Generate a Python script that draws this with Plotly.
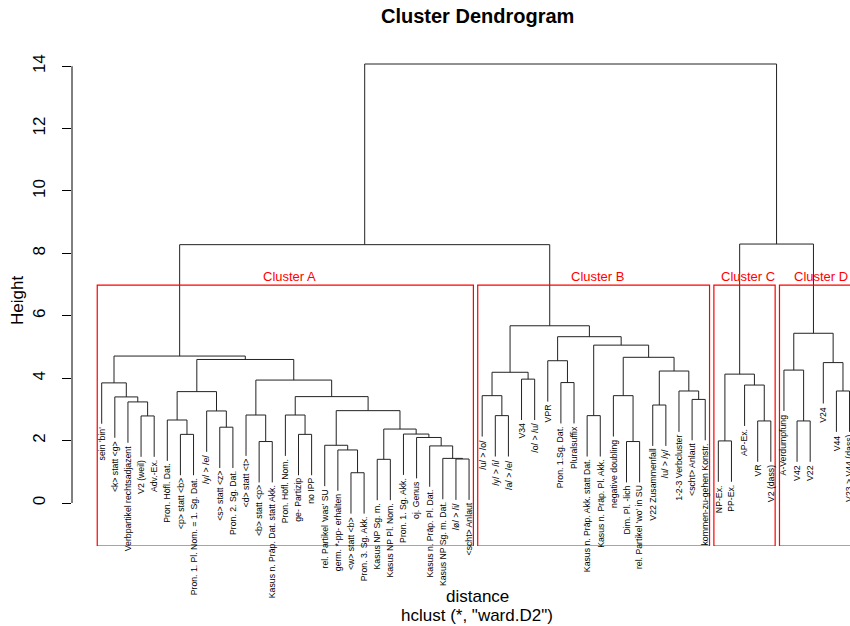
import plotly.graph_objects as go

# leaves in dendrogram order (left to right)
labels = [
    "sein 'bin'", "<k> statt <g>", "Verbpartikel rechtsadjazent", "V2 (weil)", "Adv.-Ex.",
    "Pron. Höfl. Dat.", "<p> statt <b>", "Pron. 1. Pl. Nom. = 1. Sg. Dat.", "/y/ > /e/",
    "<s> statt <z>", "Pron. 2. Sg. Dat.", "<d> statt <t>", "<b> statt <p>",
    "Kasus n. Präp. Dat. statt Akk.", "Pron. Höfl. Nom.", "ge- Partizip", "no IPP",
    "rel. Partikel 'was' SU", "germ. *-pp- erhalten", "<w> statt <b>", "Pron. 3. Sg. Akk.",
    "Kasus NP Sg. m.", "Kasus NP Pl. Nom.", "Pron. 1. Sg. Akk.", "oj. Genus",
    "Kasus n. Präp. Pl. Dat.", "Kasus NP Sg. m. Dat.", "/ø/ > /i/", "<scht> Anlaut",
    "/u/ > /o/", "/y/ > /i/", "/a/ > /e/", "V34", "/o/ > /u/", "VPR", "Pron. 1.Sg. Dat.",
    "Pluralsuffix", "Kasus n. Präp. Akk. statt Dat.", "Kasus n. Präp. Pl. Akk.",
    "negative doubling", "Dim. Pl. -lich", "rel. Partikel 'wo' in SU", "V22 Zusammenfall",
    "/u/ > /y/", "1-2-3 Verbcluster", "<scht> Anlaut", "kommen-zu-gehen Konstr.",
    "NP-Ex.", "PP-Ex.", "AP-Ex.", "VR", "V2 (dass)",
    "A-Verdumpfung", "V42", "V22", "V24", "V44", "V23 > V44 (dass)",
]

# merge matrix like R's hclust: negative = leaf number, positive = earlier merge row
merge_left = [-4, -3, -2, -1, -7, -6, -10, -9, 6, -13, -12, -16, -15, -20, -19, -18,
              -22, -28, -27, -26, -25, -24, 17, 16, 13, 11, 9, 4,
              -31, -30, -33, 30, -36, -35, -38, -41, -40, -43, -46, -45, 38, 37, 35, 34, 32,
              -48, -51, -50, 46,
              -54, -53, -57, -56, 51,
              28, 49, 55]
merge_right = [-5, 1, 2, 3, -8, 5, -11, 7, 8, -14, 10, -17, 12, -21, 14, 15,
               -23, -29, 18, 19, 20, 21, 22, 23, 24, 25, 26, 27,
               -32, 29, -34, 31, -37, 33, -39, -42, 36, -44, -47, 39, 40, 41, 42, 43, 44,
               -49, -52, 47, 48,
               -55, 50, -58, 52, 53,
               45, 54, 56]
merge_height = [2.79, 3.24, 3.40, 3.85, 2.20, 2.66, 2.43, 2.95, 3.57, 1.97, 2.82, 2.20, 2.82,
                0.97, 1.70, 1.85, 1.40, 1.41, 1.43, 1.83, 2.10, 2.21, 2.37, 2.96, 3.41, 3.94,
                4.60, 4.71,
                2.80, 3.44, 3.97, 4.19, 3.86, 4.56, 2.80, 1.97, 3.44, 3.14, 3.32, 3.59, 4.23,
                4.67, 5.06, 5.33, 5.68,
                1.99, 2.63, 3.78, 4.13,
                2.63, 4.26, 3.59, 4.50, 5.44,
                8.28, 8.30, 14.07]

n_clusters = 4
cluster_names = ["Cluster A", "Cluster B", "Cluster C", "Cluster D"]
y_ticks = [0, 2, 4, 6, 8, 10, 12, 14]

FONT = "Liberation Sans, Arial, Helvetica, sans-serif"
n = len(labels)
hang = 0.1 * (max(merge_height) - min(merge_height))

# node positions
merge_x = []
for l, r in zip(merge_left, merge_right):
    xl = -l if l < 0 else merge_x[l - 1]
    xr = -r if r < 0 else merge_x[r - 1]
    merge_x.append((xl + xr) / 2)

seg_x, seg_y = [], []
leaf_end = {}
for l, r, h in zip(merge_left, merge_right, merge_height):
    ends = []
    for c in (l, r):
        if c < 0:
            cx, ch = -c, h - hang
            leaf_end[-c] = ch
        else:
            cx, ch = merge_x[c - 1], merge_height[c - 1]
        ends.append((cx, ch))
    (xl, hl), (xr, hr) = ends
    seg_x += [xl, xl, xr, xr, None]
    seg_y += [hl, h, h, hr, None]

# cut tree into k groups (like rect.hclust)
def leaves_of(ref):
    if ref < 0:
        return [-ref]
    return leaves_of(merge_left[ref - 1]) + leaves_of(merge_right[ref - 1])

groups = [len(merge_height)]
while len(groups) < n_clusters:
    top = max((g for g in groups if g > 0), key=lambda g: merge_height[g - 1])
    i = groups.index(top)
    groups[i:i + 1] = [merge_left[top - 1], merge_right[top - 1]]
hs = sorted(merge_height, reverse=True)
rect_top = (hs[n_clusters - 2] + hs[n_clusters - 1]) / 2

# axis scaling (px per unit chosen to match the reference)
x0 = -1.264
x1 = x0 + 778 / 13.12
y_lo, y_hi = -1.378, 14.615

fig = go.Figure()
fig.add_trace(go.Scatter(x=seg_x, y=seg_y, mode="lines",
                         line=dict(color="#222222", width=1),
                         hoverinfo="skip", showlegend=False))

annotations = []
shapes = []
for name, g in zip(cluster_names, groups):
    lv = leaves_of(g)
    a, b = min(lv) - 0.34, max(lv) + 0.33
    shapes.append(dict(type="rect", xref="x", yref="y", x0=a, x1=b, y0=y_lo, y1=rect_top,
                       line=dict(color="#ff0000", width=1.2)))
    annotations.append(dict(x=(a + b) / 2 + 0.3, y=rect_top, xref="x", yref="y", text=name,
                            showarrow=False, yanchor="bottom", yshift=-1,
                            font=dict(family=FONT, size=13, color="#ff0000")))

for i, lab in enumerate(labels, start=1):
    txt = lab.replace("&", "&amp;").replace("<", "&lt;").replace(">", "&gt;")
    annotations.append(dict(x=i, y=leaf_end[i], xref="x", yref="y", text=txt,
                            textangle=-90, showarrow=False, xanchor="center",
                            yanchor="top", yshift=-2, borderpad=0,
                            font=dict(family=FONT, size=8.7, color="#000000")))

# y axis line only spans the ticks, like base R
shapes.append(dict(type="line", xref="paper", yref="y", x0=0, x1=0,
                   y0=y_ticks[0], y1=y_ticks[-1], line=dict(color="#000000", width=1)))

annotations += [
    dict(x=(477 - 72) / 778, y=1 + (47 - 16) / 499, xref="paper", yref="paper",
         text="<b>Cluster Dendrogram</b>", showarrow=False, yanchor="middle",
         font=dict(family=FONT, size=20, color="#000000")),
    dict(x=(17 - 72) / 778, y=0.5 - (300 - 296.5) / 499, xref="paper", yref="paper",
         text="Height", textangle=-90, showarrow=False, xanchor="center",
         font=dict(family=FONT, size=17, color="#000000")),
    dict(x=(477 - 72) / 778, y=-(596 - 546) / 499, xref="paper", yref="paper",
         text="distance", showarrow=False, yanchor="middle",
         font=dict(family=FONT, size=17, color="#000000")),
    dict(x=(477 - 72) / 778, y=-(615 - 546) / 499, xref="paper", yref="paper",
         text='hclust (*, "ward.D2")', showarrow=False, yanchor="middle",
         font=dict(family=FONT, size=17, color="#000000")),
]

fig.update_layout(
    width=850, height=626,
    margin=dict(l=72, r=0, t=47, b=80),
    plot_bgcolor="white", paper_bgcolor="white",
    xaxis=dict(range=[x0, x1], visible=False),
    yaxis=dict(range=[y_lo, y_hi], tickvals=y_ticks, ticktext=[str(t) for t in y_ticks],
               ticks="outside", ticklen=9, tickcolor="#000000", tickwidth=1,
               tickangle=-90, showgrid=False, zeroline=False, showline=False,
               ticklabelstandoff=10,
               tickfont=dict(family=FONT, size=17, color="#000000")),
    shapes=shapes,
    annotations=annotations,
)

# drop the browser's default body margin so the figure sits at the page corner
fig.write_html("out.html", config={"displayModeBar": False},
               post_script="document.body.style.margin='0';")
